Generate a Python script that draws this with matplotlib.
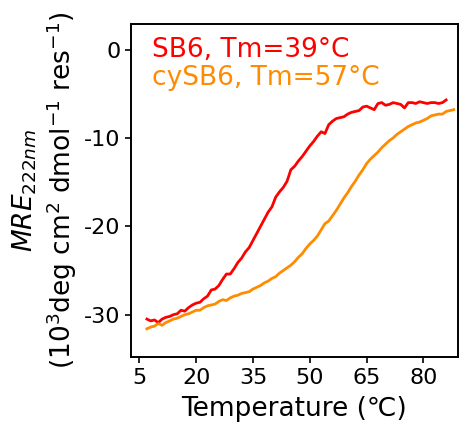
import matplotlib
matplotlib.use("Agg")
import matplotlib.pyplot as plt

plt.rcParams['axes.unicode_minus'] = False

temp_sb6 = list(range(7, 87))
mre_sb6 = [-30.5, -30.7, -30.6, -30.9, -30.5, -30.3, -30.2, -30.0, -29.9, -29.5,
           -29.6, -29.2, -28.9, -28.7, -28.6, -28.2, -27.9, -27.2, -27.1, -26.7,
           -26.0, -25.4, -25.4, -24.8, -24.1, -23.6, -22.9, -22.4, -21.6, -20.8,
           -20.0, -19.2, -18.4, -17.8, -16.7, -16.1, -15.6, -14.9, -13.6, -13.2,
           -12.6, -12.1, -11.5, -10.9, -10.4, -9.8, -9.3, -9.5, -8.5, -8.1,
           -7.8, -7.7, -7.6, -7.3, -7.1, -7.0, -6.9, -6.5, -6.4, -6.6,
           -6.8, -6.1, -6.0, -6.3, -6.2, -6.0, -6.1, -6.2, -6.6, -6.0,
           -6.0, -6.1, -5.9, -6.0, -6.1, -6.0, -6.0, -6.1, -6.0, -5.7]

temp_cysb6 = list(range(7, 89))
mre_cysb6 = [-31.6, -31.4, -31.3, -31.0, -31.2, -30.9, -30.7, -30.5, -30.4, -30.2,
             -30.0, -29.9, -29.7, -29.5, -29.5, -29.2, -29.0, -28.9, -28.8, -28.5,
             -28.3, -28.4, -28.1, -27.9, -27.8, -27.6, -27.5, -27.4, -27.1, -26.9,
             -26.7, -26.4, -26.2, -25.9, -25.7, -25.3, -25.0, -24.7, -24.4, -24.0,
             -23.5, -23.1, -22.5, -22.0, -21.6, -21.1, -20.4, -19.7, -19.4, -18.8,
             -18.2, -17.5, -16.8, -16.2, -15.5, -14.9, -14.2, -13.6, -12.9, -12.4,
             -12.0, -11.6, -11.1, -10.7, -10.3, -10.0, -9.6, -9.3, -9.0, -8.7,
             -8.5, -8.3, -8.2, -8.0, -7.8, -7.5, -7.4, -7.3, -7.3, -7.0,
             -6.9, -6.8]

labels = ["SB6, Tm=39°C", "cySB6, Tm=57°C"]
colors = ["#ff0000", "#ff8c00"]
xticks = [5, 20, 35, 50, 65, 80]
yticks = [0, -10, -20, -30]

fig = plt.figure(figsize=(4.67, 4.36), dpi=100)
ax = fig.add_axes([0.2805, 0.181, 0.700, 0.764])
ax.plot(temp_sb6, mre_sb6, color=colors[0], lw=2)
ax.plot(temp_cysb6, mre_cysb6, color=colors[1], lw=2)

ax.set_xlim(2.8, 89.1)
ax.set_ylim(-34.8, 2.9)
ax.set_xticks(xticks)
ax.set_yticks(yticks)
ax.tick_params(labelsize=16, width=1.2, length=4)
for s in ax.spines.values():
    s.set_linewidth(1.4)

ax.set_xlabel("Temperature (℃)", fontsize=19, labelpad=6)
ax.set_ylabel("$MRE_{222nm}$\n(10$^3$deg cm$^2$ dmol$^{-1}$ res$^{-1}$)", fontsize=19)

ax.text(0.063, 0.902, labels[0], color=colors[0], fontsize=19, transform=ax.transAxes)
ax.text(0.063, 0.817, labels[1], color=colors[1], fontsize=19, transform=ax.transAxes)

fig.savefig("out.png", dpi=100)
